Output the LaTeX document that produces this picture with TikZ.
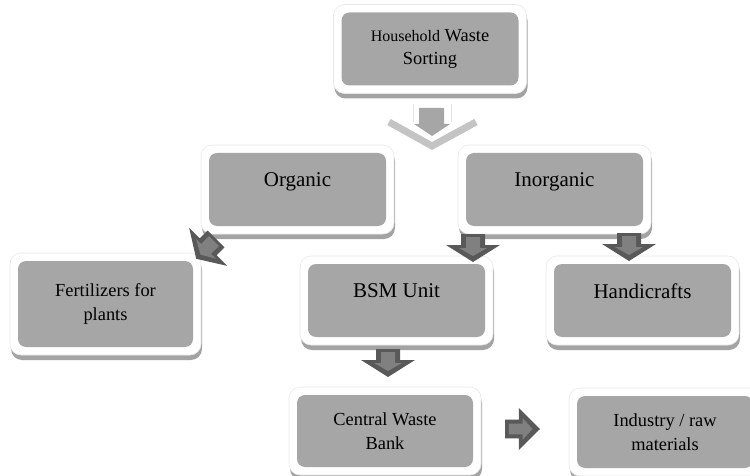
\documentclass[tikz,border=0pt]{standalone}
\usepackage{fontspec}
\setmainfont{Liberation Serif}
\usetikzlibrary{shadows}

\definecolor{boxgray}{HTML}{A6A6A6}
\definecolor{shadowgray}{HTML}{A3A3A3}
\definecolor{arrowdark}{HTML}{595959}
\definecolor{arrowlight}{HTML}{808080}
\definecolor{chevgray}{HTML}{C4C4C4}

\tikzset{
  panel/.style={rectangle, rounded corners=11pt, fill=white, draw=gray!18, line width=0.6pt,
    inner sep=0pt, outer sep=0pt, align=center, minimum width=193pt, minimum height=89pt,
    drop shadow={shadow xshift=1pt, shadow yshift=-5pt, fill=shadowgray, opacity=1},
    path picture={\fill[boxgray, rounded corners=8pt]
      ([shift={(8pt,-8pt)}]path picture bounding box.north west) rectangle
      ([shift={(-8pt,8pt)}]path picture bounding box.south east);}},
  bigtext/.style={font=\fontsize{21}{25}\selectfont, text depth=19pt},
  smalltext/.style={font=\fontsize{18.4}{24}\selectfont},
  pics/blkarrow/.style={code={
    \fill[arrowdark] (0,-12) -- (11,-12) -- (11,-27) -- (28,0) -- (11,27) -- (11,12) -- (0,12) -- cycle;
    \fill[arrowlight] (3,-7) -- (14,-7) -- (14,-14) -- (22,0) -- (14,14) -- (14,7) -- (3,7) -- cycle;}}
}

\begin{document}
\begin{tikzpicture}[x=1pt, y=-1pt]
  \useasboundingbox (0,0) rectangle (750,476);

  % boxes
  \node[panel, smalltext, font=\fontsize{18.4}{23}\selectfont] (house) at (430,49)
    {{\fontsize{16}{23}\selectfont Household} Waste\\Sorting};
  \node[panel, bigtext] (organic) at (297.5,189.5) {Organic};
  \node[panel, bigtext] (inorganic) at (554.5,189.5) {Inorganic};
  \node[panel, smalltext, minimum width=191pt, minimum height=102pt] (fert) at (105.5,304)
    {Fertilizers for\\plants};
  \node[panel, bigtext] (bsm) at (396.5,300.5) {BSM Unit};
  \node[panel, bigtext] (handi) at (642.5,300.5) {Handicrafts};
  \node[panel, smalltext, minimum width=192pt, minimum height=88pt] (central) at (385,431)
    {Central Waste\\Bank};
  \node[panel, smalltext, minimum width=192pt, minimum height=88pt] (industry) at (665,432)
    {Industry / raw\\materials};

  % top arrow
  \draw[gray!22] (413,104) -- (413,122) (451,104) -- (451,122);
  \draw[chevgray, line width=7pt] (389,122) -- (432,146) -- (476,122);
  \fill[boxgray] (419,108) -- (444,108) -- (444,124) -- (450,124) -- (432,136)
    -- (414,124) -- (419,124) -- cycle;

  % block arrows
  \pic[rotate=-135] at (216,239) {blkarrow};
  \pic[rotate=-90] at (473,234) {blkarrow};
  \pic[rotate=-90] at (629,233) {blkarrow};
  \pic[rotate=-90] at (388,349) {blkarrow};
  \pic[xscale=1.25, yscale=0.78] at (505,429) {blkarrow};
\end{tikzpicture}
\end{document}
